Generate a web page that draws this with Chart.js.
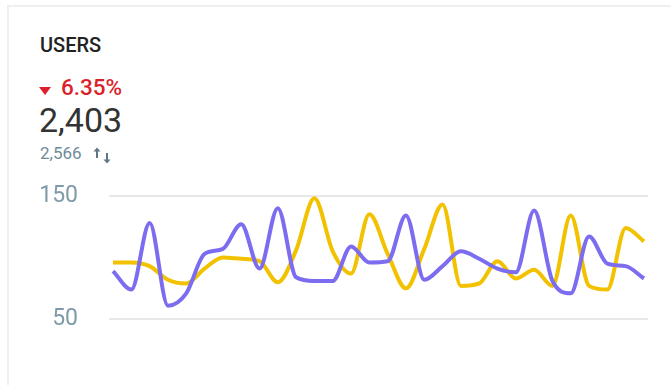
<!DOCTYPE html>
<html>
<head>
<meta charset="utf-8">
<script src="https://cdn.jsdelivr.net/npm/chart.js@4"></script>
<style>
  body { margin: 0; background: #fff; font-family: Roboto, sans-serif; overflow: hidden; }
  .card {
    position: absolute; left: 7px; top: 5px; width: 700px; height: 400px;
    border: 2px solid #efefef; border-right: none; border-bottom: none;
  }
  .title { position: absolute; left: 40px; top: 33px; font-size: 20px; font-weight: 500; color: #222; }
  .tri {
    position: absolute; left: 39px; top: 87px; width: 0; height: 0;
    border-left: 6.5px solid transparent; border-right: 6.5px solid transparent;
    border-top: 8px solid #dc1f2b;
  }
  .change { position: absolute; left: 61px; top: 74px; font-size: 22.5px; font-weight: 500; color: #dc1f2b; }
  .total { position: absolute; left: 39px; top: 100px; font-size: 34px; color: #333; }
  .prev { position: absolute; left: 40px; top: 143px; font-size: 17px; color: #6f8b99; }
  .swap { position: absolute; left: 93px; top: 146px; }
  #wrap { position: absolute; left: 0; top: 151px; width: 671px; height: 213px; }
</style>
</head>
<body>
<div class="card"></div>
<div class="title">USERS</div>
<div class="tri"></div>
<div class="change">6.35%</div>
<div class="total">2,403</div>
<div class="prev">2,566</div>
<svg class="swap" width="20" height="20" viewBox="0 0 20 20">
  <path d="M4 12V4" stroke="#5d7785" stroke-width="2" fill="none"/>
  <path d="M0.5 5.5L4 1.5L7.5 5.5Z" fill="#5d7785"/>
  <path d="M14 7V15" stroke="#5d7785" stroke-width="2" fill="none"/>
  <path d="M10.5 13.5L14 17.5L17.5 13.5Z" fill="#5d7785"/>
</svg>
<div id="wrap"><canvas id="usersChart"></canvas></div>
<script>
  const days = ['1', '2', '3', '4', '5', '6', '7', '8', '9', '10',
    '11', '12', '13', '14', '15', '16', '17', '18', '19', '20',
    '21', '22', '23', '24', '25', '26', '27', '28', '29', '30'];

  const current = [89, 74, 128, 61, 71, 103, 107, 127, 91, 140,
    84, 81, 81, 109, 96, 97, 134, 82, 93, 105,
    99, 91, 88, 138, 81, 71, 117, 95, 93, 83];

  const previous = [96, 96, 93, 82, 79, 91, 100, 99, 97, 80,
    106, 148, 105, 87, 135, 103, 75, 107, 143, 77,
    79, 97, 83, 90, 77, 134, 77, 74, 124, 113];

  const yTicks = [50, 150];

  const toPoints = (vals) => vals.map((v, i) => ({ x: i, y: v }));

  const data = {
    labels: days,
    datasets: [{
      label: 'Users',
      data: toPoints(current),
      borderColor: 'rgb(123, 108, 240)',
      borderWidth: 4,
      pointRadius: 0,
      cubicInterpolationMode: 'monotone',
      fill: false
    }, {
      label: 'Previous period',
      data: toPoints(previous),
      borderColor: 'rgb(242, 194, 0)',
      borderWidth: 4,
      pointRadius: 0,
      cubicInterpolationMode: 'monotone',
      fill: false
    }]
  };

  const config = {
    type: 'line',
    data,
    options: {
      responsive: true,
      maintainAspectRatio: false,
      animation: false,
      layout: { padding: { top: 20, bottom: 22, right: 23, left: 0 } },
      plugins: {
        legend: { display: false },
        tooltip: { enabled: false }
      },
      scales: {
        x: {
          type: 'linear',
          min: -0.22,
          max: days.length - 1 + 0.22,
          display: false
        },
        y: {
          min: yTicks[0],
          max: yTicks[1],
          afterFit: function(scale) { scale.width = 109; },
          afterBuildTicks: function(scale) {
            scale.ticks = yTicks.map(v => ({ value: v }));
          },
          border: { display: false },
          grid: { color: '#e8e8e8', lineWidth: 2, drawTicks: false },
          ticks: {
            padding: 31,
            color: '#7f9aa8',
            font: { family: 'Roboto', size: 23 }
          }
        }
      }
    }
  };

  var myChart = new Chart(document.getElementById('usersChart'), config);
</script>
</body>
</html>
